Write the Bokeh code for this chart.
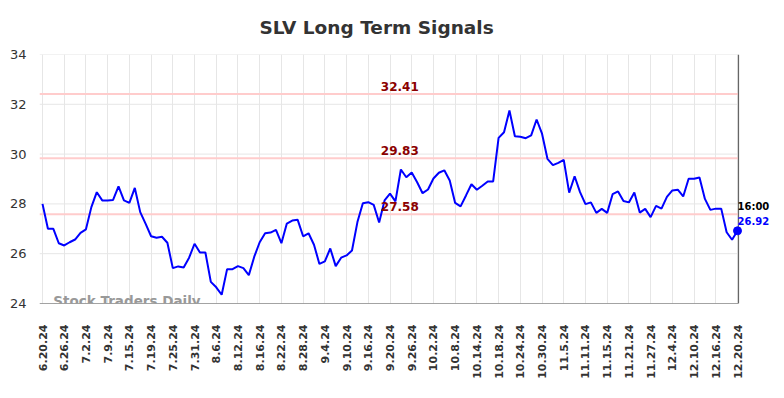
from bokeh.plotting import figure
from bokeh.models import Span, Label, FixedTicker, Range1d
from bokeh.embed import file_html
from bokeh.resources import INLINE

tick_labels = ["6.20.24", "6.26.24", "7.2.24", "7.9.24", "7.15.24", "7.19.24", "7.25.24",
               "7.31.24", "8.6.24", "8.12.24", "8.16.24", "8.22.24", "8.28.24", "9.4.24",
               "9.10.24", "9.16.24", "9.20.24", "9.26.24", "10.2.24", "10.8.24", "10.14.24",
               "10.18.24", "10.24.24", "10.30.24", "11.5.24", "11.11.24", "11.15.24",
               "11.21.24", "11.27.24", "12.4.24", "12.10.24", "12.16.24", "12.20.24"]

prices = [28.00, 27.00, 27.00, 26.42, 26.33, 26.46, 26.57, 26.84, 26.98, 27.87,
          28.47, 28.14, 28.14, 28.16, 28.70, 28.14, 28.04, 28.64, 27.67, 27.20,
          26.70, 26.64, 26.68, 26.44, 25.42, 25.49, 25.45, 25.84, 26.40, 26.05,
          26.05, 24.87, 24.65, 24.35, 25.38, 25.38, 25.50, 25.42, 25.14, 25.88,
          26.46, 26.82, 26.85, 26.96, 26.42, 27.21, 27.33, 27.36, 26.70, 26.82,
          26.36, 25.59, 25.69, 26.21, 25.50, 25.84, 25.93, 26.13, 27.27, 28.03,
          28.07, 27.96, 27.25, 28.14, 28.41, 28.10, 29.38, 29.07, 29.26, 28.87,
          28.43, 28.58, 29.02, 29.25, 29.35, 28.94, 28.04, 27.90, 28.34, 28.79,
          28.57, 28.73, 28.90, 28.90, 30.65, 30.88, 31.75, 30.72, 30.70, 30.64,
          30.75, 31.39, 30.82, 29.81, 29.56, 29.65, 29.77, 28.45, 29.11, 28.47,
          27.99, 28.06, 27.64, 27.80, 27.64, 28.39, 28.50, 28.12, 28.06, 28.46,
          27.65, 27.80, 27.47, 27.92, 27.81, 28.28, 28.54, 28.57, 28.30, 29.01,
          29.01, 29.06, 28.20, 27.76, 27.81, 27.81, 26.86, 26.56, 26.92]

levels = [32.41, 29.83, 27.58]
last_time = "16:00"
y_ticks = [24, 26, 28, 30, 32, 34]

idx = list(range(len(prices)))
tick_pos = [i * 4 for i in range(len(tick_labels))]
n_last = idx[-1]

# layout (pixels)
W, H = 780, 394
left, top, bottom_y = 39, 54, 303
px_per_pt = 695 / 128.0
x_start = -3 / px_per_pt
x_end = x_start + (W - left) / px_per_pt
x_stop = n_last + 1 / px_per_pt  # right edge of the drawn plot area

p = figure(width=W, height=H, output_backend="svg", toolbar_location=None,
           x_range=Range1d(x_start, x_end), y_range=Range1d(24, 34),
           min_border_left=left, min_border_right=0, min_border_top=top,
           min_border_bottom=H - bottom_y)

p.title.text = "SLV Long Term Signals"
p.title.align = "left"
p.title.offset = 220
p.title.vertical_align = "middle"
p.title.standoff = 31
p.title.text_font = "DejaVu Sans"
p.title.text_font_size = "18.5px"
p.title.text_font_style = "bold"
p.title.text_color = "#333333"
p.outline_line_color = None
p.background_fill_color = "white"

p.xaxis.ticker = FixedTicker(ticks=tick_pos)
p.xaxis.major_label_overrides = {tp: lab for tp, lab in zip(tick_pos, tick_labels)}
p.xaxis.major_label_orientation = 1.5707963
p.xaxis.major_label_text_font = "DejaVu Sans"
p.xaxis.major_label_text_font_size = "11px"
p.xaxis.major_label_text_font_style = "bold"
p.xaxis.major_label_text_color = "#333333"
p.xaxis.axis_line_color = None
p.xaxis.major_tick_line_color = None
p.xaxis.minor_tick_line_color = None
p.xaxis.major_tick_out = 0
p.xaxis.major_tick_in = 0
p.xaxis.major_label_standoff = 21

p.yaxis.ticker = FixedTicker(ticks=y_ticks)
p.yaxis.major_label_text_font = "DejaVu Sans"
p.yaxis.major_label_text_font_size = "13px"
p.yaxis.major_label_text_color = "#333333"
p.yaxis.axis_line_color = None
p.yaxis.major_tick_line_color = None
p.yaxis.minor_tick_line_color = None
p.yaxis.major_tick_out = 0
p.yaxis.major_tick_in = 0
p.yaxis.major_label_standoff = 13

p.xgrid.grid_line_color = "#e6e6e6"
p.ygrid.grid_line_color = None

# horizontal grid lines, stopping at the last data point
p.segment(x0=[x_start] * len(y_ticks), y0=y_ticks, x1=[x_stop] * len(y_ticks), y1=y_ticks,
          line_color="#e6e6e6", line_width=1)

# level lines
p.segment(x0=[x_start] * len(levels), y0=levels, x1=[x_stop] * len(levels), y1=levels,
          line_color="#ffcccc", line_width=2)

p.add_layout(Label(x=2.0, y=24.1, text="Stock Traders Daily", text_align="left",
                   text_baseline="middle", text_color="#999999", text_font_style="bold",
                   text_font_size="13.5px", text_font="DejaVu Sans"))

# x axis line and right border line
p.segment(x0=[x_start], y0=[24], x1=[x_stop], y1=[24], line_color="#555555", line_width=1.2)
p.segment(x0=[x_stop], y0=[24], x1=[x_stop], y1=[34], line_color="#666666", line_width=1.2)

for lv in levels:
    p.add_layout(Label(x=65.8, y=lv, text=f"{lv:.2f}", text_align="center",
                       text_baseline="bottom", y_offset=3, text_color="#8b0000",
                       text_font_style="bold", text_font_size="12px", text_font="DejaVu Sans"))

p.line(idx, prices, line_color="#0000ff", line_width=2)
p.scatter([n_last], [prices[-1]], size=8, color="#0000ff")

p.add_layout(Label(x=n_last, y=prices[-1], text=last_time, text_align="left",
                   text_baseline="middle", y_offset=24, text_color="#000000",
                   text_font_style="bold", text_font_size="10px", text_font="DejaVu Sans"))
p.add_layout(Label(x=n_last, y=prices[-1], text=f"{prices[-1]:.2f}", text_align="left",
                   text_baseline="middle", y_offset=10, text_color="#0000ff",
                   text_font_style="bold", text_font_size="10px", text_font="DejaVu Sans"))

open("out.html", "w").write(file_html(p, INLINE))
